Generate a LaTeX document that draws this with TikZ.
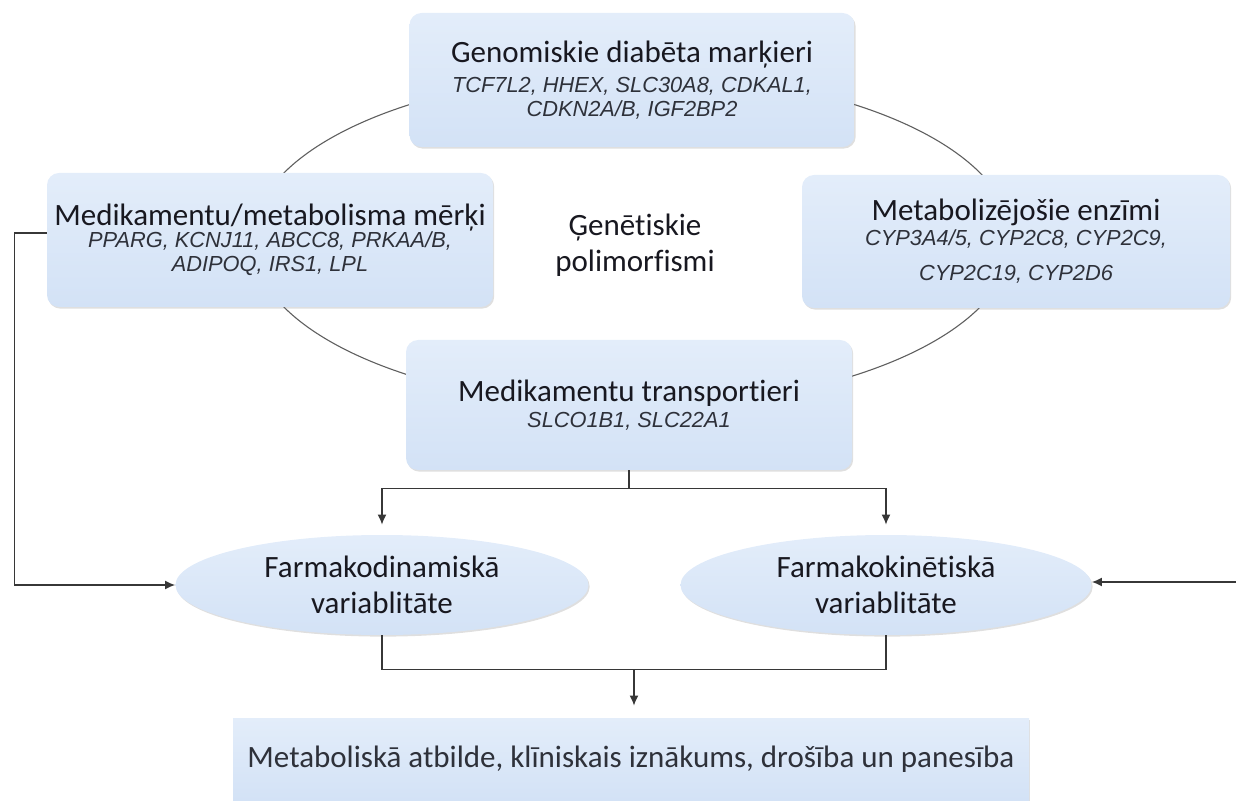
\documentclass[tikz,border=0pt]{standalone}
\usepackage{fontspec}
\setmainfont{Carlito}[Ligatures=NoCommon]
\newfontfamily\genefont{Liberation Sans}
\usetikzlibrary{shapes.geometric,shadows,calc,arrows.meta}
\definecolor{boxhi}{RGB}{227,237,250}
\definecolor{boxlo}{RGB}{211,226,246}
\definecolor{ink}{RGB}{24,24,32}
\definecolor{geneink}{RGB}{46,49,58}
\definecolor{wire}{RGB}{55,55,55}
\definecolor{ringline}{RGB}{95,95,95}
\newcommand{\hd}{\rmfamily\upshape\color{ink}\fontsize{15.5}{18}\selectfont}
\newcommand{\gn}{\genefont\itshape\fontsize{10.9}{12}\selectfont}
\tikzset{
  panel/.style={rounded corners=6pt, top color=boxhi, bottom color=boxlo, inner sep=0pt,
    align=center, font=\gn, text=geneink, drop shadow={shadow xshift=0.6pt, shadow yshift=-0.8pt, opacity=0.25}},
  oval/.style={ellipse, top color=boxhi, bottom color=boxlo, inner sep=0pt,
    align=center, font=\hd, drop shadow={shadow xshift=0.6pt, shadow yshift=-0.8pt, opacity=0.25}},
  link/.style={draw=wire, line width=0.7pt},
  ring/.style={draw=ringline, line width=0.55pt}
}
\begin{document}
\begin{tikzpicture}[>={Latex[length=5pt,width=4.5pt]}, x=0.5pt, y=0.5pt, yscale=-1]
  \useasboundingbox (0,0) rectangle (1236,801);
  \draw[ring] (632,240) ellipse [x radius=190pt, y radius=83.5pt];

  \node[panel, minimum width=222.5pt, minimum height=67pt] (gen) at (632,80)
    {{\hd Genomiskie diabēta marķieri}\\[3pt] TCF7L2, HHEX, SLC30A8, CDKAL1,\\ CDKN2A/B, IGF2BP2};
  \node[panel, minimum width=223pt, minimum height=67pt] (medm) at (270,240)
    {{\hd Medikamentu/metabolisma mērķi}\\[-1pt] PPARG, KCNJ11, ABCC8, PRKAA/B,\\ ADIPOQ, IRS1, LPL};
  \node[panel, minimum width=214pt, minimum height=66.5pt] (enz) at (1016,241.5)
    {{\hd Metabolizējošie enzīmi}\\[0.5pt] CYP3A4/5, CYP2C8, CYP2C9,\\[5.5pt] CYP2C19, CYP2D6};
  \node[panel, minimum width=223pt, minimum height=65pt] (trans) at (629,405)
    {{\hd Medikamentu transportieri}\\[1pt] SLCO1B1, SLC22A1};
  \node[align=center, font=\hd] (poly) at (635,245) {Ģenētiskie\\polimorfismi};

  \node[oval, minimum width=206.5pt, minimum height=50pt] (fdyn) at (382,585)
    {Farmakodinamiskā\\variablitāte};
  \node[oval, minimum width=205.5pt, minimum height=50pt] (fkin) at (886,585)
    {Farmakokinētiskā\\variablitāte};
  \node[panel, rounded corners=0pt, font=\hd, minimum width=398pt, minimum height=41pt] (out) at (631,759)
    {Metaboliskā atbilde, klīniskais iznākums, drošība un panesība};

  \draw[link] (trans.south) -- ++(0,18) coordinate (split);
  \draw[link,->,shorten >=5pt] (split) -| (fdyn.north);
  \draw[link,->,shorten >=5pt] (split) -| (fkin.north);
  \draw[link] (fdyn.south) -- ++(0,34) coordinate (merge) -| (fkin.south);
  \coordinate (mid) at ($(fdyn.south)!0.5!(fkin.south)+(0,34)$);
  \draw[link,->,shorten >=6pt] (mid) -- (mid |- out.north);
  \draw[link,->] ($(medm.west)+(0,-7)$) -- ++(-32,0) |- (fdyn.west);
  \coordinate (rin) at (1236,582);
  \draw[link,->] (rin) -- (fkin.east |- rin);
\end{tikzpicture}
\end{document}
